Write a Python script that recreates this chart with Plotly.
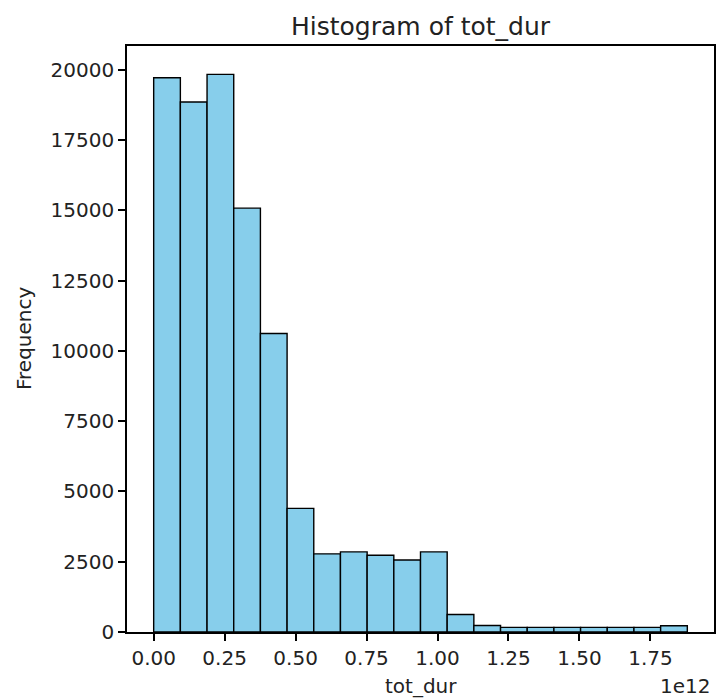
import plotly.graph_objects as go

# Histogram of tot_dur (x in units of 1e12)
bin_left = [0.000, 0.094, 0.188, 0.282, 0.376, 0.470, 0.564, 0.658, 0.752, 0.846,
            0.940, 1.034, 1.128, 1.222, 1.316, 1.410, 1.504, 1.598, 1.692, 1.786]
bin_width = 0.094
counts = [19720, 18860, 19840, 15080, 10620, 4400, 2780, 2850, 2730, 2560,
          2850, 620, 230, 165, 165, 165, 165, 165, 165, 225]

x_ticks = [0.00, 0.25, 0.50, 0.75, 1.00, 1.25, 1.50, 1.75]
y_ticks = [0, 2500, 5000, 7500, 10000, 12500, 15000, 17500, 20000]

centers = [b + bin_width / 2 for b in bin_left]

FONT = "DejaVu Sans"

fig = go.Figure(go.Bar(
    x=centers, y=counts, width=[bin_width] * len(counts),
    marker=dict(color="#87CEEB", line=dict(color="black", width=1.4)),
    hoverinfo="x+y",
))

axis_common = dict(
    showline=True, linecolor="black", linewidth=1.6, mirror=True,
    ticks="outside", ticklen=7, tickwidth=1.6, tickcolor="black",
    showgrid=False, zeroline=False,
    tickfont=dict(family=FONT, size=20, color="#222"),
)

fig.update_layout(
    width=717, height=698,
    margin=dict(l=127, r=1, t=46, b=66),
    paper_bgcolor="white", plot_bgcolor="white",
    showlegend=False,
    xaxis=dict(range=[-0.094, 1.974], tickvals=x_ticks, tickformat=".2f", **axis_common),
    yaxis=dict(range=[0, 20850], tickvals=y_ticks, tickformat="d", **axis_common),
    annotations=[
        dict(text="Histogram of tot_dur", x=0.5, y=1, xref="paper", yref="paper",
             xanchor="center", yanchor="bottom", yshift=3, showarrow=False,
             font=dict(family=FONT, size=25, color="#222")),
        dict(text="tot_dur", x=0.5, y=0, xref="paper", yref="paper",
             xanchor="center", yanchor="top", yshift=-40, showarrow=False,
             font=dict(family=FONT, size=20, color="#222")),
        dict(text="Frequency", x=0, y=0.5, xref="paper", yref="paper",
             xanchor="right", yanchor="middle", xshift=-89, textangle=-90,
             showarrow=False, font=dict(family=FONT, size=20, color="#222")),
        dict(text="1e12", x=1, y=0, xref="paper", yref="paper",
             xanchor="right", yanchor="top", yshift=-40, xshift=-2, showarrow=False,
             font=dict(family=FONT, size=20, color="#222")),
    ],
)

fig.write_html("out.html")
